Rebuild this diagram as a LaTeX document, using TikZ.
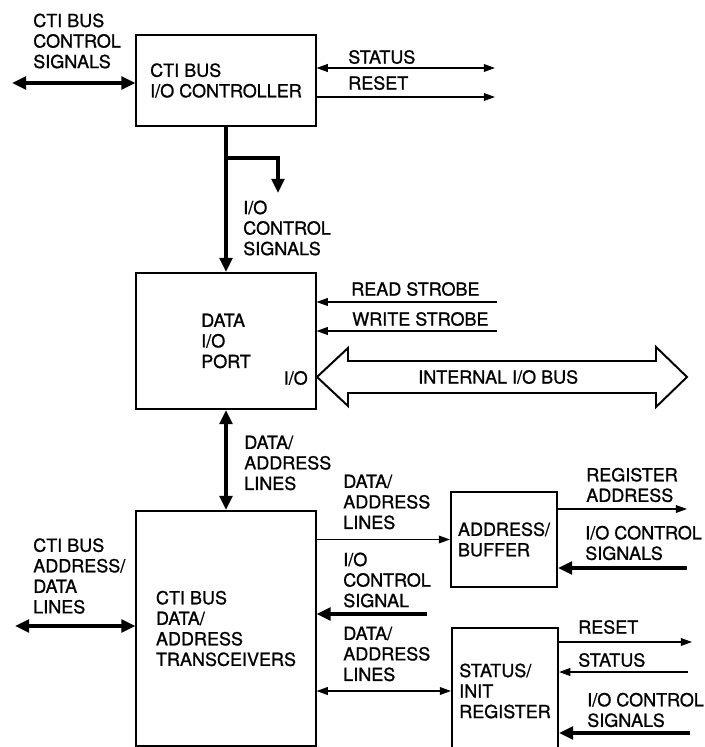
\documentclass[tikz,border=0pt]{standalone}
\usepackage{fontspec}
\setmainfont{TeX Gyre Heros}[FakeBold=1]
\usetikzlibrary{arrows.meta, calc}

\begin{document}
\begin{tikzpicture}[x=0.025cm, y=-0.025cm,
    blk/.style={draw, line width=1.4pt, align=left, font=\fontsize{12.8}{14.6}\selectfont},
    lbl/.style={inner sep=0pt, align=left, anchor=west, font=\fontsize{12.8}{14.6}\selectfont},
    thinline/.style={line width=1pt, >={Triangle[length=8pt,width=5.5pt]}},
    busline/.style={line width=2.6pt, >={Triangle[length=10pt,width=9pt]}}]
        \useasboundingbox (0,0) rectangle (704,747);
        % blocks
        \node[blk, minimum width=4.475cm, minimum height=2.275cm] (ctl) at (226,80.5) {CTI BUS\\I/O CONTROLLER};
        \node[blk, minimum width=4.475cm, minimum height=3.4cm] (port) at (226,341) {DATA\\I/O\\PORT};
        \node[blk, minimum width=4.475cm, minimum height=5.875cm] (trx) at (226,628.5) {CTI BUS\\DATA/\\ADDRESS\\TRANSCEIVERS};
        \node[blk, minimum width=2.65cm, minimum height=2.375cm] (buf) at (504,539.5) {ADDRESS/\\BUFFER};
        \node[blk, minimum width=2.65cm, minimum height=3.15cm] (reg) at (505,691) {STATUS/\\INIT\\REGISTER};
        % labels
        \node[lbl] (cbsig) at (33,41) {CTI BUS\\CONTROL\\SIGNALS};
        \node[lbl] (sttop) at (348,57) {STATUS};
        \node[lbl] (rstop) at (348,83) {RESET};
        \node[lbl] (iocs) at (243,228) {I/O\\CONTROL\\SIGNALS};
        \node[lbl] (rdst) at (351,289) {READ STROBE};
        \node[lbl] (wrst) at (352,319) {WRITE STROBE};
        \node[lbl, anchor=east] (pio) at (308,378) {I/O};
        \node[lbl] (ibus) at (418,377) {INTERNAL I/O BUS};
        \node[lbl] (dal) at (244,463) {DATA/\\ADDRESS\\LINES};
        \node[lbl] (cbad) at (33,576) {CTI BUS\\ADDRESS/\\DATA\\LINES};
        \node[lbl] (dalup) at (343,502) {DATA/\\ADDRESS\\LINES};
        \node[lbl] (iocsig) at (343,580) {I/O\\CONTROL\\SIGNAL};
        \node[lbl] (dallo) at (343,654) {DATA/\\ADDRESS\\LINES};
        \node[lbl] (regad) at (586,485) {REGISTER\\ADDRESS};
        \node[lbl] (bufcs) at (585,543) {I/O CONTROL\\SIGNALS};
        \node[lbl] (rsbot) at (578,627) {RESET};
        \node[lbl] (stbot) at (578,660) {STATUS};
        \node[lbl] (regcs) at (587,710) {I/O CONTROL\\SIGNALS};
        % free ends
        \coordinate (cbl) at (12,83);
        \coordinate (stout) at (495,68);
        \coordinate (rsout) at (495,97);
        \coordinate (tap) at (226,158);
        \coordinate (tapend) at (278,193);
        \coordinate (rdin) at (497,302);
        \coordinate (wrin) at (497,331);
        \coordinate (adl) at (15,626);
        \coordinate (csin) at (427,614);
        \coordinate (raout) at (687,509);
        \coordinate (bufin) at (687,568);
        \coordinate (rsreg) at (692,642);
        \coordinate (stin) at (688,672);
        \coordinate (regin) at (690,733);
        % connectors
        \draw[busline,<->] (cbl) -- (cbl -| ctl.west);
        \draw[thinline,<->] (stout -| ctl.east) -- (stout);
        \draw[thinline,->] (rsout -| ctl.east) -- (rsout);
        \draw[busline,->] (ctl.south) -- (port.north);
        \draw[busline,->] (tap) -| (tapend);
        \draw[thinline,->] (rdin) -- (rdin -| port.east);
        \draw[thinline,->] (wrin) -- (wrin -| port.east);
        \draw[busline,<->] (port.south) -- (trx.north);
        \draw[busline,<->] (adl) -- (adl -| trx.west);
        \draw[thinline,->] (trx.east |- buf.west) -- (buf.west);
        \draw[busline,->] (csin) -- (csin -| trx.east);
        \draw[thinline,<->] (trx.east |- reg.west) -- (reg.west);
        \draw[thinline,->] (raout -| buf.east) -- (raout);
        \draw[busline,->] (bufin) -- (bufin -| buf.east);
        \draw[thinline,->] (rsreg -| reg.east) -- (rsreg);
        \draw[thinline,->] (stin) -- (stin -| reg.east);
        \draw[busline,->] (regin) -- (regin -| reg.east);
        % internal bus outline
        \draw[line width=1.4pt, line join=miter] (317,377) -- (348,348) -- (348,361) -- (656,361) -- (656,347)
            -- (687,377) -- (656,407) -- (656,393) -- (348,393) -- (348,406) -- cycle;
    \end{tikzpicture}
\end{document}
